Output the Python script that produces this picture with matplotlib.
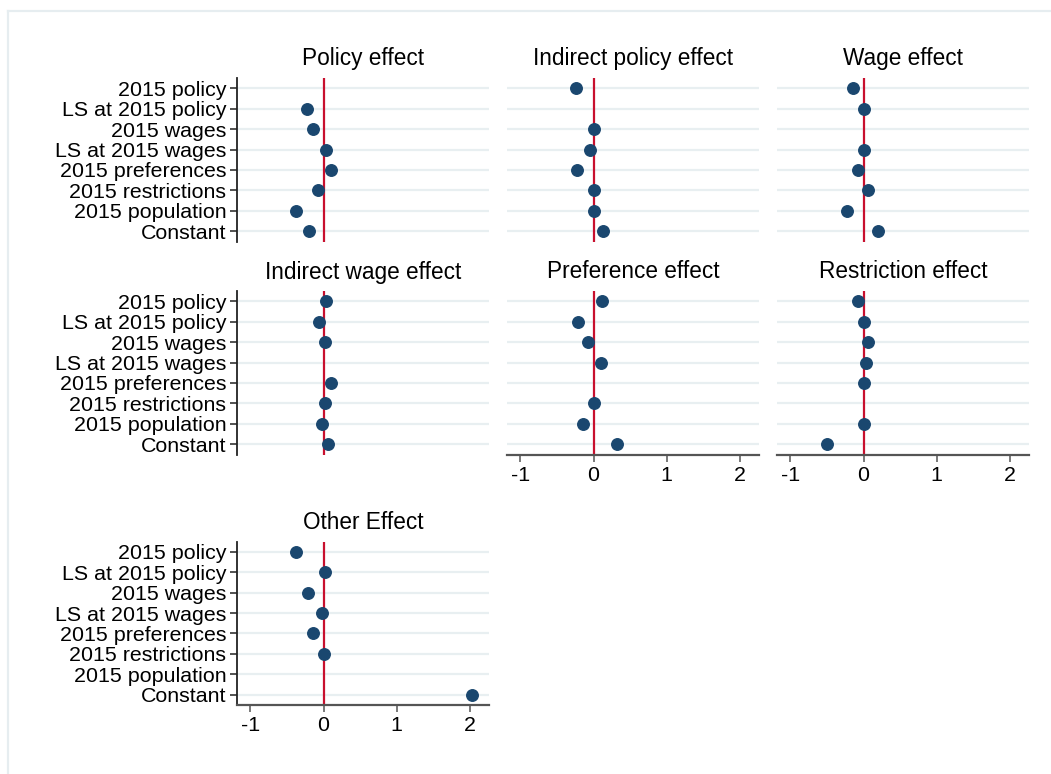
import numpy as np
import matplotlib
matplotlib.use("Agg")
import matplotlib.pyplot as plt
from matplotlib.lines import Line2D

plt.rcParams['font.family'] = ['Liberation Sans', 'DejaVu Sans']

categories = ["2015 policy", "LS at 2015 policy", "2015 wages", "LS at 2015 wages",
              "2015 preferences", "2015 restrictions", "2015 population", "Constant"]
nan = np.nan
titles = ["Policy effect", "Indirect policy effect", "Wage effect",
          "Indirect wage effect", "Preference effect", "Restriction effect",
          "Other Effect"]
policy_effect = [nan, -0.23, -0.15, 0.04, 0.10, -0.07, -0.38, -0.20]
indirect_policy_effect = [-0.24, nan, 0.00, -0.05, -0.22, 0.00, 0.01, 0.13]
wage_effect = [-0.15, 0.00, nan, 0.01, -0.08, 0.06, -0.22, 0.20]
indirect_wage_effect = [0.04, -0.06, 0.02, nan, 0.10, 0.02, -0.02, 0.06]
preference_effect = [0.11, -0.21, -0.08, 0.10, nan, 0.01, -0.14, 0.32]
restriction_effect = [-0.07, 0.00, 0.06, 0.03, 0.01, nan, 0.01, -0.50]
other_effect = [-0.38, 0.02, -0.21, -0.02, -0.14, 0.01, nan, 2.03]
series = [policy_effect, indirect_policy_effect, wage_effect, indirect_wage_effect,
          preference_effect, restriction_effect, other_effect]
xticks = [-1, 0, 1, 2]

W, H = 1051, 774
fig = plt.figure(figsize=(W / 100, H / 100), dpi=100)
fig.patch.set_facecolor('white')

# outer frame (left and top visible)
frame_col = '#e6edf0'
fig.add_artist(Line2D([8 / W, 8 / W], [0, 1 - 11 / H], color=frame_col, lw=1.6,
                      transform=fig.transFigure))
fig.add_artist(Line2D([8 / W, 1], [1 - 11 / H, 1 - 11 / H], color=frame_col, lw=1.6,
                      transform=fig.transFigure))

col_left = [237.3, 507.3, 777.3]
ax_w = 251.3
row_top = [78.0, 291.0, 541.5]
ax_h = 163.5

dot_col = '#1a476f'
red_col = '#c8102e'
grid_col = '#e8eff1'

positions = [(0, 0), (0, 1), (0, 2), (1, 0), (1, 1), (1, 2), (2, 0)]
show_x = {4, 5, 6}

y = np.arange(len(categories))
for i, (r, c) in enumerate(positions):
    left = col_left[c] / W
    bottom = 1 - (row_top[r] + ax_h) / H
    ax = fig.add_axes([left, bottom, ax_w / W, ax_h / H])
    ax.set_xlim(-1.18, 2.26)
    ax.set_ylim(len(categories) - 0.5, -0.5)
    for yy in y:
        ax.axhline(yy, color=grid_col, lw=1.6, zorder=1)
    ax.axvline(0, color=red_col, lw=1.6, zorder=2)
    vals = np.array(series[i], dtype=float)
    ax.plot(vals, y, 'o', color=dot_col, markersize=8.3, zorder=3, linestyle='none')
    ax.set_title(titles[i], fontsize=16.3, pad=9)
    for s in ['top', 'right']:
        ax.spines[s].set_visible(False)
    ax.set_yticks(y)
    if c == 0:
        ax.spines['left'].set_color('#222222')
        ax.spines['left'].set_linewidth(1.3)
        ax.set_yticklabels(categories, fontsize=15.4)
        ax.tick_params(axis='y', length=5, width=1.1, color='#222222', pad=3)
    else:
        ax.spines['left'].set_visible(False)
        ax.tick_params(axis='y', length=0, labelleft=False)
    ax.set_xticks(xticks)
    if i in show_x:
        ax.spines['bottom'].set_color('#555555')
        ax.spines['bottom'].set_linewidth(1.6)
        ax.set_xticklabels([str(t) for t in xticks], fontsize=15.4)
        ax.tick_params(axis='x', length=5, width=1.1, color='#555555', pad=3)
    else:
        ax.spines['bottom'].set_visible(False)
        ax.tick_params(axis='x', length=0, labelbottom=False)
    ax.set_facecolor('white')

fig.savefig('out.png', dpi=100, facecolor='white')
